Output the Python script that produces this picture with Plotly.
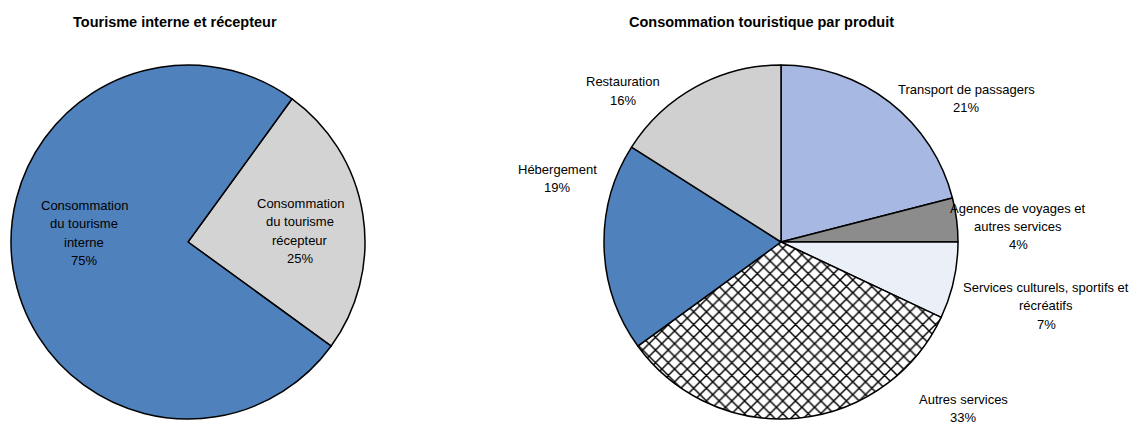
import plotly.graph_objects as go

# Left pie: domestic vs inbound tourism consumption
left_labels = ["Consommation<br>du tourisme<br>récepteur", "Consommation<br>du tourisme<br>interne"]
left_values = [25, 75]
left_colors = ["#D3D3D3", "#4F81BD"]

# Right pie: tourism consumption by product (clockwise from 12 o'clock)
right_labels = [
    "Transport de passagers",
    "Agences de voyages et<br>autres services",
    "Services culturels, sportifs et<br>récréatifs",
    "Autres services",
    "Hébergement",
    "Restauration",
]
right_values = [21, 4, 7, 33, 19, 16]
right_colors = ["#A7B9E3", "#8C8C8C", "#EAEFF8", "#FFFFFF", "#4F81BD", "#D0D0D0"]
right_shapes = ["", "", "", "x", "", ""]

# Label anchors in pixels: (centre x, y of first line)
left_label_px = [(300, 203), (84, 205)]
right_label_px = [(966, 89), (1018, 208), (1046, 287), (963, 399), (557, 169), (623, 82)]

W, H = 1130, 425
FONT = "Liberation Sans, Arial"
LINE = 18.5
SIZE = 13

def dom(cx, cy, r):
    return dict(x=[(cx - r) / W, (cx + r) / W], y=[(H - cy - r) / H, (H - cy + r) / H])

fig = go.Figure()

fig.add_trace(go.Pie(
    labels=left_labels,
    values=left_values,
    sort=False,
    direction="clockwise",
    rotation=36,
    marker=dict(colors=left_colors, line=dict(color="black", width=1.5)),
    textinfo="none",
    domain=dom(188, 242, 177),
    showlegend=False,
    hoverinfo="skip",
))

fig.add_trace(go.Pie(
    labels=right_labels,
    values=right_values,
    sort=False,
    direction="clockwise",
    rotation=0,
    marker=dict(
        colors=right_colors,
        line=dict(color="black", width=1.5),
        pattern=dict(shape=right_shapes, fgcolor="black", bgcolor="white", size=9, solidity=0.3),
    ),
    textinfo="none",
    domain=dom(781, 242, 177),
    showlegend=False,
    hoverinfo="skip",
))

annotations = [
    dict(text="<b>Tourisme interne et récepteur</b>", x=175 / W, y=1 - 22 / H,
         xref="paper", yref="paper", showarrow=False, xanchor="center", yanchor="middle",
         font=dict(family=FONT, size=14.5, color="black")),
    dict(text="<b>Consommation touristique par produit</b>", x=761 / W, y=1 - 22 / H,
         xref="paper", yref="paper", showarrow=False, xanchor="center", yanchor="middle",
         font=dict(family=FONT, size=14.5, color="black")),
]


def add_label(label, value, px, py):
    lines = label.split("<br>") + [f"{value}%"]
    for i, line in enumerate(lines):
        annotations.append(dict(
            text=line, x=px / W, y=1 - (py + i * LINE) / H,
            xref="paper", yref="paper", showarrow=False,
            xanchor="center", yanchor="middle",
            font=dict(family=FONT, size=SIZE, color="black"),
        ))


for lab, val, (px, py) in zip(left_labels, left_values, left_label_px):
    add_label(lab, val, px, py)
for lab, val, (px, py) in zip(right_labels, right_values, right_label_px):
    add_label(lab, val, px, py)

fig.update_layout(
    width=W, height=H,
    margin=dict(l=0, r=0, t=0, b=0),
    paper_bgcolor="white",
    plot_bgcolor="white",
    annotations=annotations,
)

fig.write_html("out.html")
